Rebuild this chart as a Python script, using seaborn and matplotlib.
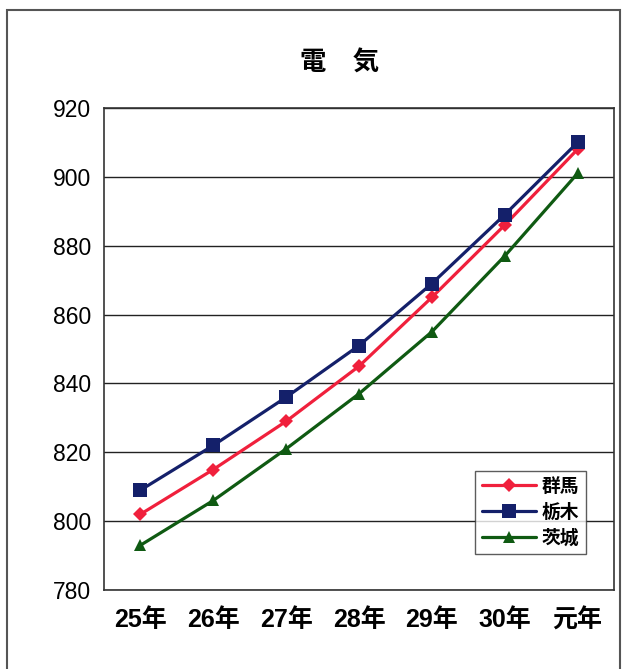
import matplotlib
matplotlib.use("Agg")
import matplotlib.pyplot as plt
from matplotlib.patches import Rectangle
import numpy as np
import pandas as pd
import seaborn as sns

# 年度ラベルと各県の値
years = ["25年", "26年", "27年", "28年", "29年", "30年", "元年"]
gunma = [802, 815, 829, 845, 865, 886, 908]
tochigi = [809, 822, 836, 851, 869, 889, 910]
ibaraki = [793, 806, 821, 837, 855, 877, 901]
prefs = ["群馬", "栃木", "茨城"]
y_ticks = [780, 800, 820, 840, 860, 880, 900, 920]

sns.set_theme(style="white")
plt.rcParams["font.family"] = ["Liberation Sans", "Noto Sans CJK JP", "DejaVu Sans"]
plt.rcParams["text.color"] = "black"
plt.rcParams["xtick.color"] = "black"
plt.rcParams["ytick.color"] = "black"

df = pd.DataFrame({
    "pos": list(range(len(years))) * 3,
    "value": gunma + tochigi + ibaraki,
    "pref": [p for p in prefs for _ in years],
})

fig = plt.figure(figsize=(6.3, 6.69), dpi=100)
fig.patch.set_facecolor("white")
ax = fig.add_axes([104 / 630, 1 - 590 / 669, (614 - 104) / 630, (590 - 108) / 669])

palette = {"群馬": "#f0203c", "栃木": "#14206a", "茨城": "#0f5a12"}
markers = {"群馬": "D", "栃木": "s", "茨城": "^"}
sizes = {"群馬": 7, "栃木": 10, "茨城": 9}

for p in prefs:
    sub = df[df["pref"] == p]
    sns.lineplot(data=sub, x="pos", y="value", ax=ax, color=palette[p],
                 marker=markers[p], markersize=sizes[p], markeredgewidth=0,
                 linewidth=2.3, label=p, zorder=3)

ax.set_xlim(-0.5, len(years) - 0.5)
ax.set_ylim(780, 920)
ax.set_yticks(y_ticks)
ax.set_yticklabels([str(v) for v in y_ticks], fontsize=16.5)
ax.set_xticks(range(len(years)))
ax.set_xticklabels(years, fontsize=18, fontweight="bold")
ax.tick_params(axis="x", which="major", length=0, pad=13)
ax.tick_params(axis="y", which="major", length=0, pad=9)
ax.set_xticks(np.arange(0.5, len(years) - 0.5, 1.0), minor=True)
ax.tick_params(axis="x", which="minor", direction="in", length=7, width=1, color="#222222")
ax.set_xlabel("")
ax.set_ylabel("")

ax.yaxis.grid(True, color="#222222", linewidth=1.0)
ax.xaxis.grid(False)
ax.set_axisbelow(True)
for s in ax.spines.values():
    s.set_color("#333333")
    s.set_linewidth(1.2)
ax.set_facecolor("white")

leg = ax.legend(loc="lower right", bbox_to_anchor=(0.945, 0.075), frameon=True,
                fancybox=False, edgecolor="#333333", fontsize=13.5,
                handlelength=2.9, handletextpad=0.3, borderpad=0.35,
                labelspacing=0.4, borderaxespad=0)
leg.get_frame().set_linewidth(1.0)
for t in leg.get_texts():
    t.set_fontweight("bold")
    t.set_color("black")

fig.text(340 / 630, 1 - 63 / 669, "電　気", ha="center", va="center",
         fontsize=19, fontweight="bold", family=["Noto Sans CJK JP"], color="black")

# 外枠
fig.patches.append(Rectangle((7 / 630, -0.05), (620 - 7) / 630, 1.05 - 10 / 669,
                             transform=fig.transFigure, fill=False,
                             edgecolor="#555555", linewidth=1.5))

fig.savefig("out.png", dpi=100, facecolor="white")
